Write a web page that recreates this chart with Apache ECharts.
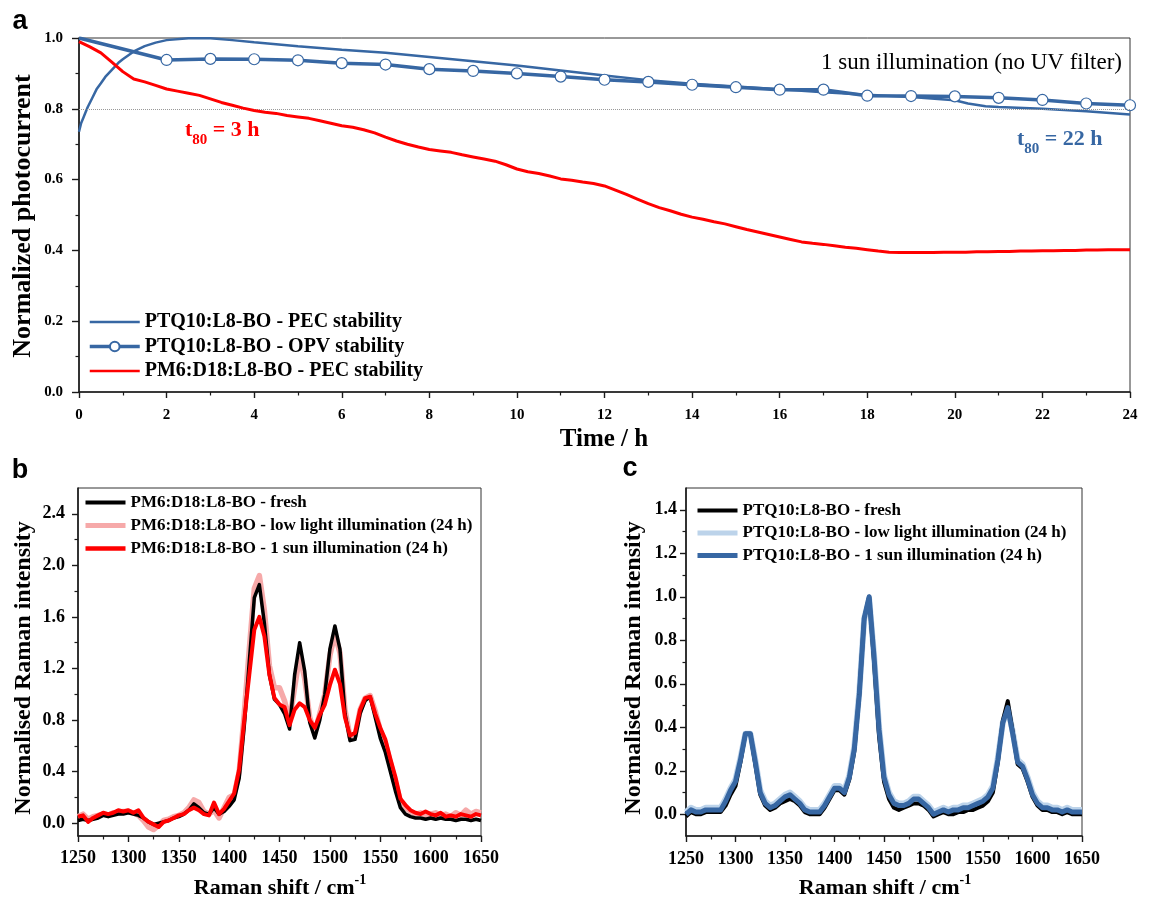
<!DOCTYPE html>
<html>
<head>
<meta charset="utf-8">
<script src="https://cdn.jsdelivr.net/npm/echarts@6.0.0/dist/echarts.min.js"></script>
<style>
  html, body { margin: 0; padding: 0; background: #fff; }
  #chart { width: 1150px; height: 899px; }
</style>
</head>
<body>
<div id="chart"></div>
<script>
// ---------- panel a: photocurrent stability ----------
const pecTime = [0, 0.05, 0.1, 0.15, 0.2, 0.3, 0.4, 0.5, 0.6, 0.75, 0.9, 1, 1.25, 1.5, 1.75, 2, 2.5, 3, 3.5, 4,
  5, 6, 7, 8, 9, 10, 11, 12, 13, 14, 15, 16, 17, 18, 19, 20, 20.3, 20.7, 21, 22, 23, 24];
const pecPTQ10 = [0.735, 0.76, 0.775, 0.79, 0.805, 0.83, 0.855, 0.872, 0.89, 0.91, 0.93, 0.94, 0.962, 0.977, 0.987,
  0.994, 0.999, 0.999, 0.994, 0.988, 0.977, 0.967, 0.958, 0.946, 0.934, 0.922, 0.908, 0.894, 0.881, 0.871, 0.863,
  0.855, 0.847, 0.840, 0.833, 0.824, 0.815, 0.807, 0.805, 0.800, 0.793, 0.784];

const opvTime = [0, 2, 3, 4, 5, 6, 7, 8, 9, 10, 11, 12, 13, 14, 15, 16, 17, 18, 19, 20, 21, 22, 23, 24];
const opvPTQ10 = [1.0, 0.938, 0.941, 0.940, 0.937, 0.929, 0.925, 0.912, 0.907, 0.900, 0.891, 0.882, 0.876, 0.868,
  0.861, 0.854, 0.854, 0.837, 0.836, 0.835, 0.831, 0.825, 0.815, 0.810];

// PM6:D18:L8-BO photocurrent, one reading every quarter hour from 0 to 24 h
const pecPM6Step = 0.25;
const pecPM6 = [0.990, 0.975, 0.958, 0.932, 0.905, 0.884, 0.876, 0.866, 0.856, 0.850, 0.844, 0.838, 0.828, 0.818,
  0.810, 0.802, 0.795, 0.790, 0.787, 0.781, 0.777, 0.773, 0.766, 0.759, 0.752, 0.748, 0.741, 0.732, 0.720, 0.709,
  0.700, 0.692, 0.685, 0.681, 0.677, 0.670, 0.664, 0.658, 0.652, 0.642, 0.630, 0.622, 0.617, 0.610, 0.602, 0.598,
  0.593, 0.589, 0.582, 0.570, 0.558, 0.545, 0.532, 0.521, 0.512, 0.502, 0.494, 0.488, 0.481, 0.475, 0.467, 0.459,
  0.452, 0.445, 0.438, 0.431, 0.424, 0.420, 0.417, 0.413, 0.409, 0.406, 0.402, 0.398, 0.395, 0.394, 0.394, 0.394,
  0.394, 0.395, 0.395, 0.395, 0.396, 0.396, 0.397, 0.397, 0.398, 0.398, 0.399, 0.399, 0.400, 0.400, 0.401, 0.401,
  0.402, 0.402, 0.402];

const t80Threshold = 0.8;
const timeTicks = { min: 0, max: 24, interval: 2 };
const photoTicks = { min: 0, max: 1, interval: 0.2 };

// ---------- panels b and c: Raman spectra, 1250-1650 cm-1 every 5 cm-1 ----------
const ramanStart = 1250;
const ramanStep = 5;

const pm6Fresh = [0.02, 0.03, 0.02, 0.03, 0.04, 0.06, 0.05, 0.06, 0.07, 0.07, 0.08, 0.07, 0.06, 0.04, 0.01, -0.01,
  0.00, 0.01, 0.02, 0.04, 0.05, 0.07, 0.10, 0.15, 0.12, 0.08, 0.07, 0.12, 0.07, 0.09, 0.13, 0.18, 0.35, 0.75, 1.25,
  1.75, 1.85, 1.55, 1.15, 0.96, 0.92, 0.85, 0.73, 1.15, 1.40, 1.18, 0.78, 0.66, 0.80, 1.00, 1.35, 1.53, 1.35, 0.85,
  0.64, 0.65, 0.85, 0.95, 0.98, 0.82, 0.66, 0.55, 0.40, 0.25, 0.12, 0.07, 0.05, 0.04, 0.04, 0.03, 0.04, 0.03, 0.04,
  0.03, 0.03, 0.02, 0.03, 0.03, 0.02, 0.03, 0.02];
const pm6LowLight = [0.05, 0.07, 0.03, 0.05, 0.06, 0.07, 0.06, 0.08, 0.08, 0.09, 0.09, 0.08, 0.06, 0.02, -0.03, -0.05,
  -0.02, 0.02, 0.03, 0.05, 0.06, 0.08, 0.12, 0.18, 0.16, 0.09, 0.07, 0.10, 0.04, 0.12, 0.20, 0.22, 0.40, 0.85, 1.35,
  1.82, 1.92, 1.65, 1.22, 1.05, 1.05, 0.95, 0.80, 1.05, 1.30, 1.12, 0.82, 0.70, 0.85, 1.00, 1.30, 1.47, 1.32, 0.88,
  0.67, 0.68, 0.88, 0.97, 0.99, 0.87, 0.72, 0.62, 0.47, 0.32, 0.17, 0.12, 0.09, 0.07, 0.08, 0.06, 0.07, 0.08, 0.06,
  0.07, 0.05, 0.08, 0.06, 0.10, 0.07, 0.09, 0.08];
const pm6OneSun = [0.05, 0.06, 0.01, 0.04, 0.06, 0.08, 0.07, 0.08, 0.10, 0.09, 0.10, 0.08, 0.10, 0.04, 0.01, -0.01,
  -0.03, 0.01, 0.02, 0.04, 0.06, 0.07, 0.10, 0.12, 0.10, 0.07, 0.06, 0.16, 0.07, 0.11, 0.17, 0.23, 0.42, 0.80, 1.15,
  1.50, 1.60, 1.45, 1.15, 0.97, 0.92, 0.90, 0.76, 0.88, 0.93, 0.90, 0.80, 0.74, 0.84, 0.92, 1.07, 1.19, 1.08, 0.82,
  0.68, 0.70, 0.88, 0.97, 0.98, 0.85, 0.74, 0.65, 0.50, 0.36, 0.19, 0.14, 0.10, 0.08, 0.07, 0.09, 0.07, 0.06, 0.08,
  0.05, 0.06, 0.05, 0.07, 0.06, 0.05, 0.07, 0.06];

const ptqFresh = [-0.01, 0.01, 0.00, 0.00, 0.01, 0.01, 0.01, 0.01, 0.04, 0.09, 0.13, 0.24, 0.37, 0.37, 0.23, 0.09,
  0.04, 0.02, 0.03, 0.05, 0.06, 0.07, 0.06, 0.04, 0.01, 0.00, 0.00, 0.00, 0.03, 0.07, 0.11, 0.11, 0.09, 0.16, 0.29,
  0.55, 0.90, 1.00, 0.70, 0.36, 0.15, 0.07, 0.03, 0.02, 0.03, 0.04, 0.05, 0.05, 0.04, 0.02, -0.01, 0.00, 0.01, 0.00,
  0.00, 0.01, 0.01, 0.02, 0.02, 0.03, 0.04, 0.06, 0.10, 0.24, 0.43, 0.52, 0.38, 0.23, 0.21, 0.15, 0.08, 0.04, 0.02,
  0.02, 0.01, 0.01, 0.00, 0.01, 0.00, 0.00, 0.00];
const ptqLowLight = [0.01, 0.03, 0.02, 0.02, 0.03, 0.03, 0.03, 0.03, 0.07, 0.12, 0.16, 0.26, 0.37, 0.37, 0.25, 0.11,
  0.06, 0.04, 0.05, 0.07, 0.09, 0.10, 0.08, 0.06, 0.03, 0.02, 0.02, 0.02, 0.05, 0.09, 0.13, 0.13, 0.11, 0.18, 0.31,
  0.56, 0.90, 0.99, 0.73, 0.40, 0.18, 0.10, 0.06, 0.05, 0.05, 0.06, 0.08, 0.08, 0.06, 0.04, 0.01, 0.02, 0.03, 0.02,
  0.03, 0.03, 0.04, 0.04, 0.05, 0.06, 0.07, 0.09, 0.13, 0.26, 0.42, 0.49, 0.38, 0.25, 0.23, 0.17, 0.10, 0.06, 0.04,
  0.04, 0.03, 0.03, 0.02, 0.03, 0.02, 0.02, 0.02];
const ptqOneSun = [0.00, 0.02, 0.01, 0.01, 0.02, 0.02, 0.02, 0.02, 0.06, 0.11, 0.15, 0.25, 0.37, 0.37, 0.24, 0.10,
  0.05, 0.03, 0.04, 0.06, 0.08, 0.09, 0.07, 0.05, 0.02, 0.01, 0.01, 0.01, 0.04, 0.08, 0.12, 0.12, 0.10, 0.17, 0.30,
  0.55, 0.90, 1.00, 0.72, 0.39, 0.17, 0.09, 0.05, 0.04, 0.04, 0.05, 0.07, 0.07, 0.05, 0.03, 0.00, 0.01, 0.02, 0.01,
  0.02, 0.02, 0.03, 0.03, 0.04, 0.05, 0.06, 0.08, 0.12, 0.25, 0.42, 0.49, 0.37, 0.24, 0.22, 0.16, 0.09, 0.05, 0.03,
  0.03, 0.02, 0.02, 0.01, 0.02, 0.01, 0.01, 0.01];

const ramanTicks = { min: 1250, max: 1650, interval: 50 };
const ramanYb = { min: -0.1, max: 2.6, major: [0, 0.4, 0.8, 1.2, 1.6, 2.0, 2.4], minor: [0.2, 0.6, 1.0, 1.4, 1.8, 2.2] };
const ramanYc = { min: -0.1, max: 1.5, major: [0, 0.2, 0.4, 0.6, 0.8, 1.0, 1.2, 1.4],
  minor: [0.1, 0.3, 0.5, 0.7, 0.9, 1.1, 1.3] };

const legendA = ['PTQ10:L8-BO - PEC stability', 'PTQ10:L8-BO - OPV stability', 'PM6:D18:L8-BO - PEC stability'];
const legendB = ['PM6:D18:L8-BO - fresh', 'PM6:D18:L8-BO - low light illumination (24 h)',
  'PM6:D18:L8-BO - 1 sun illumination (24 h)'];
const legendC = ['PTQ10:L8-BO - fresh', 'PTQ10:L8-BO - low light illumination (24 h)',
  'PTQ10:L8-BO - 1 sun illumination (24 h)'];

// ---------- styling ----------
const SERIF = "'Liberation Serif', 'Times New Roman', serif";
const SANS = "'Liberation Sans', Arial, sans-serif";
const BLUE = '#3767a3';
const RED = '#ff0000';
const PINK = '#f6a9a9';
const LIGHTBLUE = '#bcd3ea';
const AXIS = '#1a1a1a';

const zip = (xs, ys) => xs.map((x, i) => [x, ys[i]]);
const stepZip = (start, step, ys) => ys.map((y, i) => [+(start + i * step).toFixed(3), y]);

function xAxisCfg(grid, t, fontSize, margin) {
  return {
    type: 'value', gridIndex: grid, min: t.min, max: t.max, interval: t.interval,
    axisLine: { onZero: false, lineStyle: { color: AXIS, width: 1.6 } },
    axisTick: { length: 6, lineStyle: { color: AXIS, width: 1.4 } },
    minorTick: { show: true, splitNumber: 2, length: 3.5, lineStyle: { color: AXIS, width: 1.2 } },
    splitLine: { show: false },
    axisLabel: { fontFamily: SERIF, fontWeight: 'bold', fontSize: fontSize, color: '#000', margin: margin,
      formatter: v => String(v) }
  };
}

function customYAxis(grid, r, fontSize, margin) {
  return [{
    type: 'value', gridIndex: grid, position: 'left', min: r.min, max: r.max,
    axisLine: { onZero: false, lineStyle: { color: AXIS, width: 1.6 } },
    axisTick: { length: 6, customValues: r.major, lineStyle: { color: AXIS, width: 1.4 } },
    splitLine: { show: false },
    axisLabel: { customValues: r.major, fontFamily: SERIF, fontWeight: 'bold', fontSize: fontSize, color: '#000',
      margin: margin, formatter: v => v.toFixed(1) }
  }, {
    type: 'value', gridIndex: grid, position: 'left', min: r.min, max: r.max,
    axisLine: { show: false },
    axisTick: { length: 3.5, customValues: r.minor, lineStyle: { color: AXIS, width: 1.2 } },
    splitLine: { show: false },
    axisLabel: { show: false }
  }];
}

// keys: [name, line width, keep marker]
function legendCfg(keys, left, top, itemWidth, fontSize, gap) {
  return {
    data: keys.map(([n, w, marker]) => Object.assign({ name: n, lineStyle: { width: w } },
      marker ? {} : { itemStyle: { opacity: 0 } })),
    left: left, top: top, orient: 'vertical', itemWidth: itemWidth, itemHeight: 12,
    itemGap: gap, selectedMode: false, padding: 0,
    textStyle: { fontFamily: SERIF, fontWeight: 'bold', fontSize: fontSize, color: '#000' }
  };
}

function spectrum(name, xi, yi, ys, color, width, z) {
  return {
    name: name, type: 'line', xAxisIndex: xi, yAxisIndex: yi, data: stepZip(ramanStart, ramanStep, ys),
    symbol: 'none', z: z, lineStyle: { color: color, width: width, join: 'round' }, itemStyle: { color: color }
  };
}

function txt(x, y, text, font, extra) {
  return Object.assign({
    type: 'text', x: x, y: y, silent: true,
    style: Object.assign({ text: text, fill: '#000', align: 'center', verticalAlign: 'middle',
      textAlign: 'center', textVerticalAlign: 'middle' }, font)
  }, extra || {});
}

const titleFont = size => ({ fontFamily: SERIF, fontWeight: 'bold', fontSize: size });
const richPart = (size, lh, va, color) =>
  Object.assign({ lineHeight: lh, verticalAlign: va, fill: color, color: color }, titleFont(size));

const option = {
  animation: false,
  backgroundColor: '#ffffff',
  grid: [
    { left: 79, top: 38, width: 1051, height: 354, show: true, borderColor: '#333', borderWidth: 1,
      outerBoundsMode: 'none' },
    { left: 78, top: 488, width: 403, height: 348, show: true, borderColor: '#333', borderWidth: 1,
      outerBoundsMode: 'none' },
    { left: 686, top: 488, width: 396, height: 348, show: true, borderColor: '#333', borderWidth: 1,
      outerBoundsMode: 'none' }
  ],
  xAxis: [
    xAxisCfg(0, timeTicks, 15, 16),
    xAxisCfg(1, ramanTicks, 18, 13),
    xAxisCfg(2, ramanTicks, 18, 14)
  ],
  yAxis: [
    {
      type: 'value', gridIndex: 0, min: photoTicks.min, max: photoTicks.max, interval: photoTicks.interval,
      axisLine: { onZero: false, lineStyle: { color: AXIS, width: 1.6 } },
      axisTick: { length: 7, lineStyle: { color: AXIS, width: 1.4 } },
      minorTick: { show: true, splitNumber: 2, length: 3.5, lineStyle: { color: AXIS, width: 1.2 } },
      splitLine: { show: false },
      axisLabel: { fontFamily: SERIF, fontWeight: 'bold', fontSize: 15, color: '#000', margin: 16,
        formatter: v => v.toFixed(1) }
    },
    ...customYAxis(1, ramanYb, 18, 13),
    ...customYAxis(2, ramanYc, 18, 9)
  ],
  legend: [
    legendCfg([[legendA[0], 2.5], [legendA[1], 3.5, true], [legendA[2], 2.5]], 88, 312, 50, 20, 4.5),
    legendCfg([[legendB[0], 4], [legendB[1], 5], [legendB[2], 4.5]], 83, 494, 40, 17, 6),
    legendCfg([[legendC[0], 4], [legendC[1], 5], [legendC[2], 5]], 695, 502, 40, 17, 5.5)
  ],
  series: [
    {
      name: legendA[0], type: 'line', xAxisIndex: 0, yAxisIndex: 0, data: zip(pecTime, pecPTQ10),
      symbol: 'none', z: 3, lineStyle: { color: BLUE, width: 2.5 }, itemStyle: { color: BLUE }
    },
    {
      name: legendA[1], type: 'line', xAxisIndex: 0, yAxisIndex: 0,
      data: zip(opvTime, opvPTQ10).map((p, i) => i === 0 ? { value: p, symbol: 'none' } : p),
      symbol: 'circle', symbolSize: 11, showSymbol: true, z: 4,
      lineStyle: { color: BLUE, width: 3.5 },
      itemStyle: { color: '#ffffff', borderColor: BLUE, borderWidth: 1.2 }
    },
    {
      name: legendA[2], type: 'line', xAxisIndex: 0, yAxisIndex: 0, data: stepZip(0, pecPM6Step, pecPM6),
      symbol: 'none', z: 5, lineStyle: { color: RED, width: 3 }, itemStyle: { color: RED },
      markLine: {
        silent: true, symbol: ['none', 'none'], label: { show: false },
        lineStyle: { color: '#999', type: 'dotted', width: 1 },
        data: [{ yAxis: t80Threshold }]
      }
    },
    spectrum(legendB[1], 1, 1, pm6LowLight, PINK, 5.5, 2),
    spectrum(legendB[0], 1, 1, pm6Fresh, '#000000', 3.5, 3),
    spectrum(legendB[2], 1, 1, pm6OneSun, RED, 4, 4),
    spectrum(legendC[1], 2, 3, ptqLowLight, LIGHTBLUE, 6, 2),
    spectrum(legendC[0], 2, 3, ptqFresh, '#000000', 4, 3),
    spectrum(legendC[2], 2, 3, ptqOneSun, BLUE, 5, 4)
  ],
  graphic: [
    // panel letters
    txt(20, 22, 'a', { fontFamily: SANS, fontWeight: 'bold', fontSize: 27 }),
    txt(20, 471, 'b', { fontFamily: SANS, fontWeight: 'bold', fontSize: 27 }),
    txt(630, 469, 'c', { fontFamily: SANS, fontWeight: 'bold', fontSize: 27 }),
    // axis titles
    txt(23, 216, 'Normalized photocurrent', titleFont(26), { rotation: Math.PI / 2 }),
    txt(604, 440, 'Time / h', titleFont(25)),
    txt(24, 668, 'Normalised Raman intensity', titleFont(24), { rotation: Math.PI / 2 }),
    txt(634, 668, 'Normalised Raman intensity', titleFont(24), { rotation: Math.PI / 2 }),
    txt(280, 888, '{m|Raman shift / cm}{p|-1}', {
      rich: { m: richPart(22, 30, 'middle', '#000'), p: richPart(14, 14, 'top', '#000') }
    }),
    txt(885, 888, '{m|Raman shift / cm}{p|-1}', {
      rich: { m: richPart(22, 30, 'middle', '#000'), p: richPart(14, 14, 'top', '#000') }
    }),
    // annotations
    txt(1122, 63, '1 sun illumination (no UV filter)',
      { fontFamily: SERIF, fontWeight: 'normal', fontSize: 23, align: 'right', textAlign: 'right' }),
    txt(185, 130, '{m|t}{s|80}{m| = 3 h}', {
      align: 'left', textAlign: 'left', fill: RED,
      rich: { m: richPart(22, 36, 'middle', RED), s: richPart(15, 15, 'bottom', RED) }
    }),
    txt(1017, 139, '{m|t}{s|80}{m| = 22 h}', {
      align: 'left', textAlign: 'left', fill: BLUE,
      rich: { m: richPart(22, 36, 'middle', BLUE), s: richPart(15, 15, 'bottom', BLUE) }
    })
  ]
};

const chart = echarts.init(document.getElementById('chart'), null, { renderer: 'canvas' });
chart.setOption(option);
</script>
</body>
</html>
